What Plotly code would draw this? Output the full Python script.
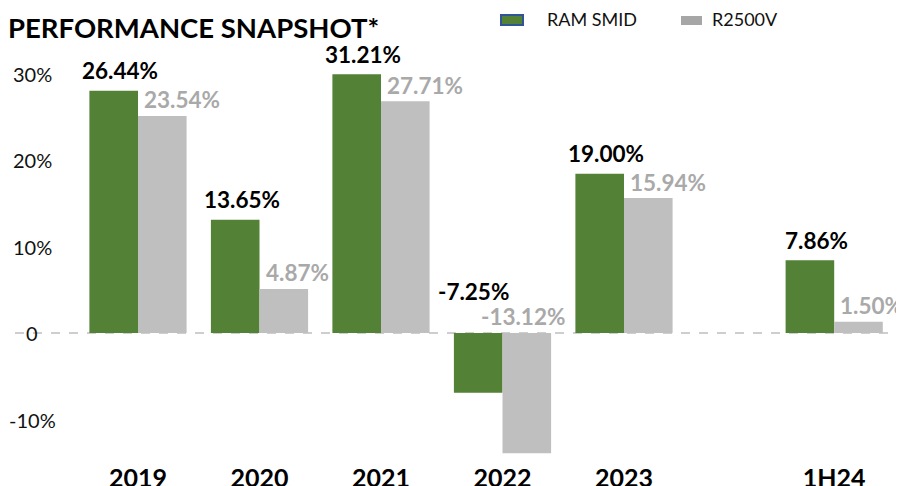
import plotly.graph_objects as go

# ---- data ----
categories = ["2019", "2020", "2021", "2022", "2023", "1H24"]
series_names = ["RAM SMID", "R2500V"]
ram_smid_bar = [28.0, 13.1, 29.9, -6.9, 18.4, 8.4]      # bar heights as drawn
r2500v_bar = [25.1, 5.1, 26.8, -13.9, 15.6, 1.3]
ram_smid_labels = ["26.44%", "13.65%", "31.21%", "-7.25%", "19.00%", "7.86%"]
r2500v_labels = ["23.54%", "4.87%", "27.71%", "-13.12%", "15.94%", "1.50%"]
y_tick_vals = [30, 20, 10, 0, -10]
y_tick_text = ["30%", "20%", "10%", "0", "-10%"]
slot_pos = [0, 1, 2, 3, 4, 5.73]  # category slots (1H24 set apart)

# ---- styling ----
OFF = 8                 # page body margin in the browser
W, H = 904 - OFF, 486 - OFF
MB = 30
PH = H - MB
GREEN = "#538135"
GRAY = "#BFBFBF"
GRAY_TXT = "#A9A9A9"
FONT = "Lato"
SLOT = 121.5
ZERO_PX = 333
PX_PER_PCT = 8.65


def py(p):
    return 1 - (p - OFF) / PH


def px(p):
    return (p - OFF) / W


fig = go.Figure()
fig.add_trace(go.Bar(x=slot_pos, y=ram_smid_bar, name=series_names[0],
                     marker=dict(color=GREEN, line=dict(width=0)), showlegend=False))
fig.add_trace(go.Bar(x=slot_pos, y=r2500v_bar, name=series_names[1],
                     marker=dict(color=GRAY, line=dict(width=0)), showlegend=False))

ann = []
for xp, v, t in zip(slot_pos, ram_smid_bar, ram_smid_labels):
    ann.append(dict(x=xp, y=max(v, 0), xref="x", yref="y", text=t, showarrow=False,
                    xanchor="center", yanchor="middle",
                    xshift=(-18 if v >= 0 else -29), yshift=(20 if v >= 0 else 42),
                    font=dict(family=FONT, size=22.5, color="black", weight="bold")))
for xp, v, t in zip(slot_pos, r2500v_bar, r2500v_labels):
    ann.append(dict(x=xp, y=max(v, 0), xref="x", yref="y", text=t, showarrow=False,
                    xanchor=("left" if v >= 0 else "center"), yanchor="middle",
                    xshift=(4 if v >= 0 else 20), yshift=(16 if v >= 0 else 17),
                    font=dict(family=FONT, size=22.5, color=GRAY_TXT, weight="bold")))
for yv, t in zip(y_tick_vals, y_tick_text):
    ann.append(dict(x=px(32), y=yv, xref="paper", yref="y", text=t, showarrow=False,
                    xanchor="center", yanchor="middle",
                    font=dict(family=FONT, size=20, color="#111111")))
# title
ann.append(dict(x=px(6), y=py(27), xref="paper", yref="paper", text="PERFORMANCE SNAPSHOT*",
                showarrow=False, xanchor="left", yanchor="middle",
                font=dict(family=FONT, size=27.5, color="black", weight="bold")))
# legend texts
ann.append(dict(x=px(545), y=py(19), xref="paper", yref="paper", text=series_names[0],
                showarrow=False, xanchor="left", yanchor="middle",
                font=dict(family=FONT, size=18, color="#111111")))
ann.append(dict(x=px(710), y=py(19), xref="paper", yref="paper", text=series_names[1],
                showarrow=False, xanchor="left", yanchor="middle",
                font=dict(family=FONT, size=18, color="#111111")))

shapes = [
    dict(type="line", xref="paper", yref="y", x0=px(15), x1=px(888), y0=0, y1=0,
         line=dict(color="#BFBFBF", width=1.5, dash="dash"), layer="below"),
    dict(type="rect", xref="paper", yref="paper", x0=px(501), x1=px(523), y0=py(25), y1=py(15),
         fillcolor="#548235", line=dict(color="#2F5597", width=2)),
    dict(type="rect", xref="paper", yref="paper", x0=px(681), x1=px(702), y0=py(25), y1=py(16),
         fillcolor="#A6A6A6", line=dict(width=0)),
]

x0 = -(138 - OFF) / SLOT
fig.update_layout(
    width=W, height=H,
    margin=dict(l=0, r=0, t=0, b=MB, autoexpand=False),
    paper_bgcolor="white", plot_bgcolor="white",
    barmode="group", bargap=0.2, bargroupgap=0,
    annotations=ann, shapes=shapes,
    xaxis=dict(range=[x0, x0 + W / SLOT], tickvals=slot_pos, ticktext=categories,
               tickfont=dict(family=FONT, size=25, color="black", weight="bold"),
               ticklabelstandoff=5,
               showgrid=False, zeroline=False, showline=False, ticks=""),
    yaxis=dict(range=[(ZERO_PX - OFF - PH) / PX_PER_PCT, (ZERO_PX - OFF) / PX_PER_PCT],
               showticklabels=False,
               showgrid=False, zeroline=False, showline=False, ticks=""),
)

fig.write_html("out.html")
